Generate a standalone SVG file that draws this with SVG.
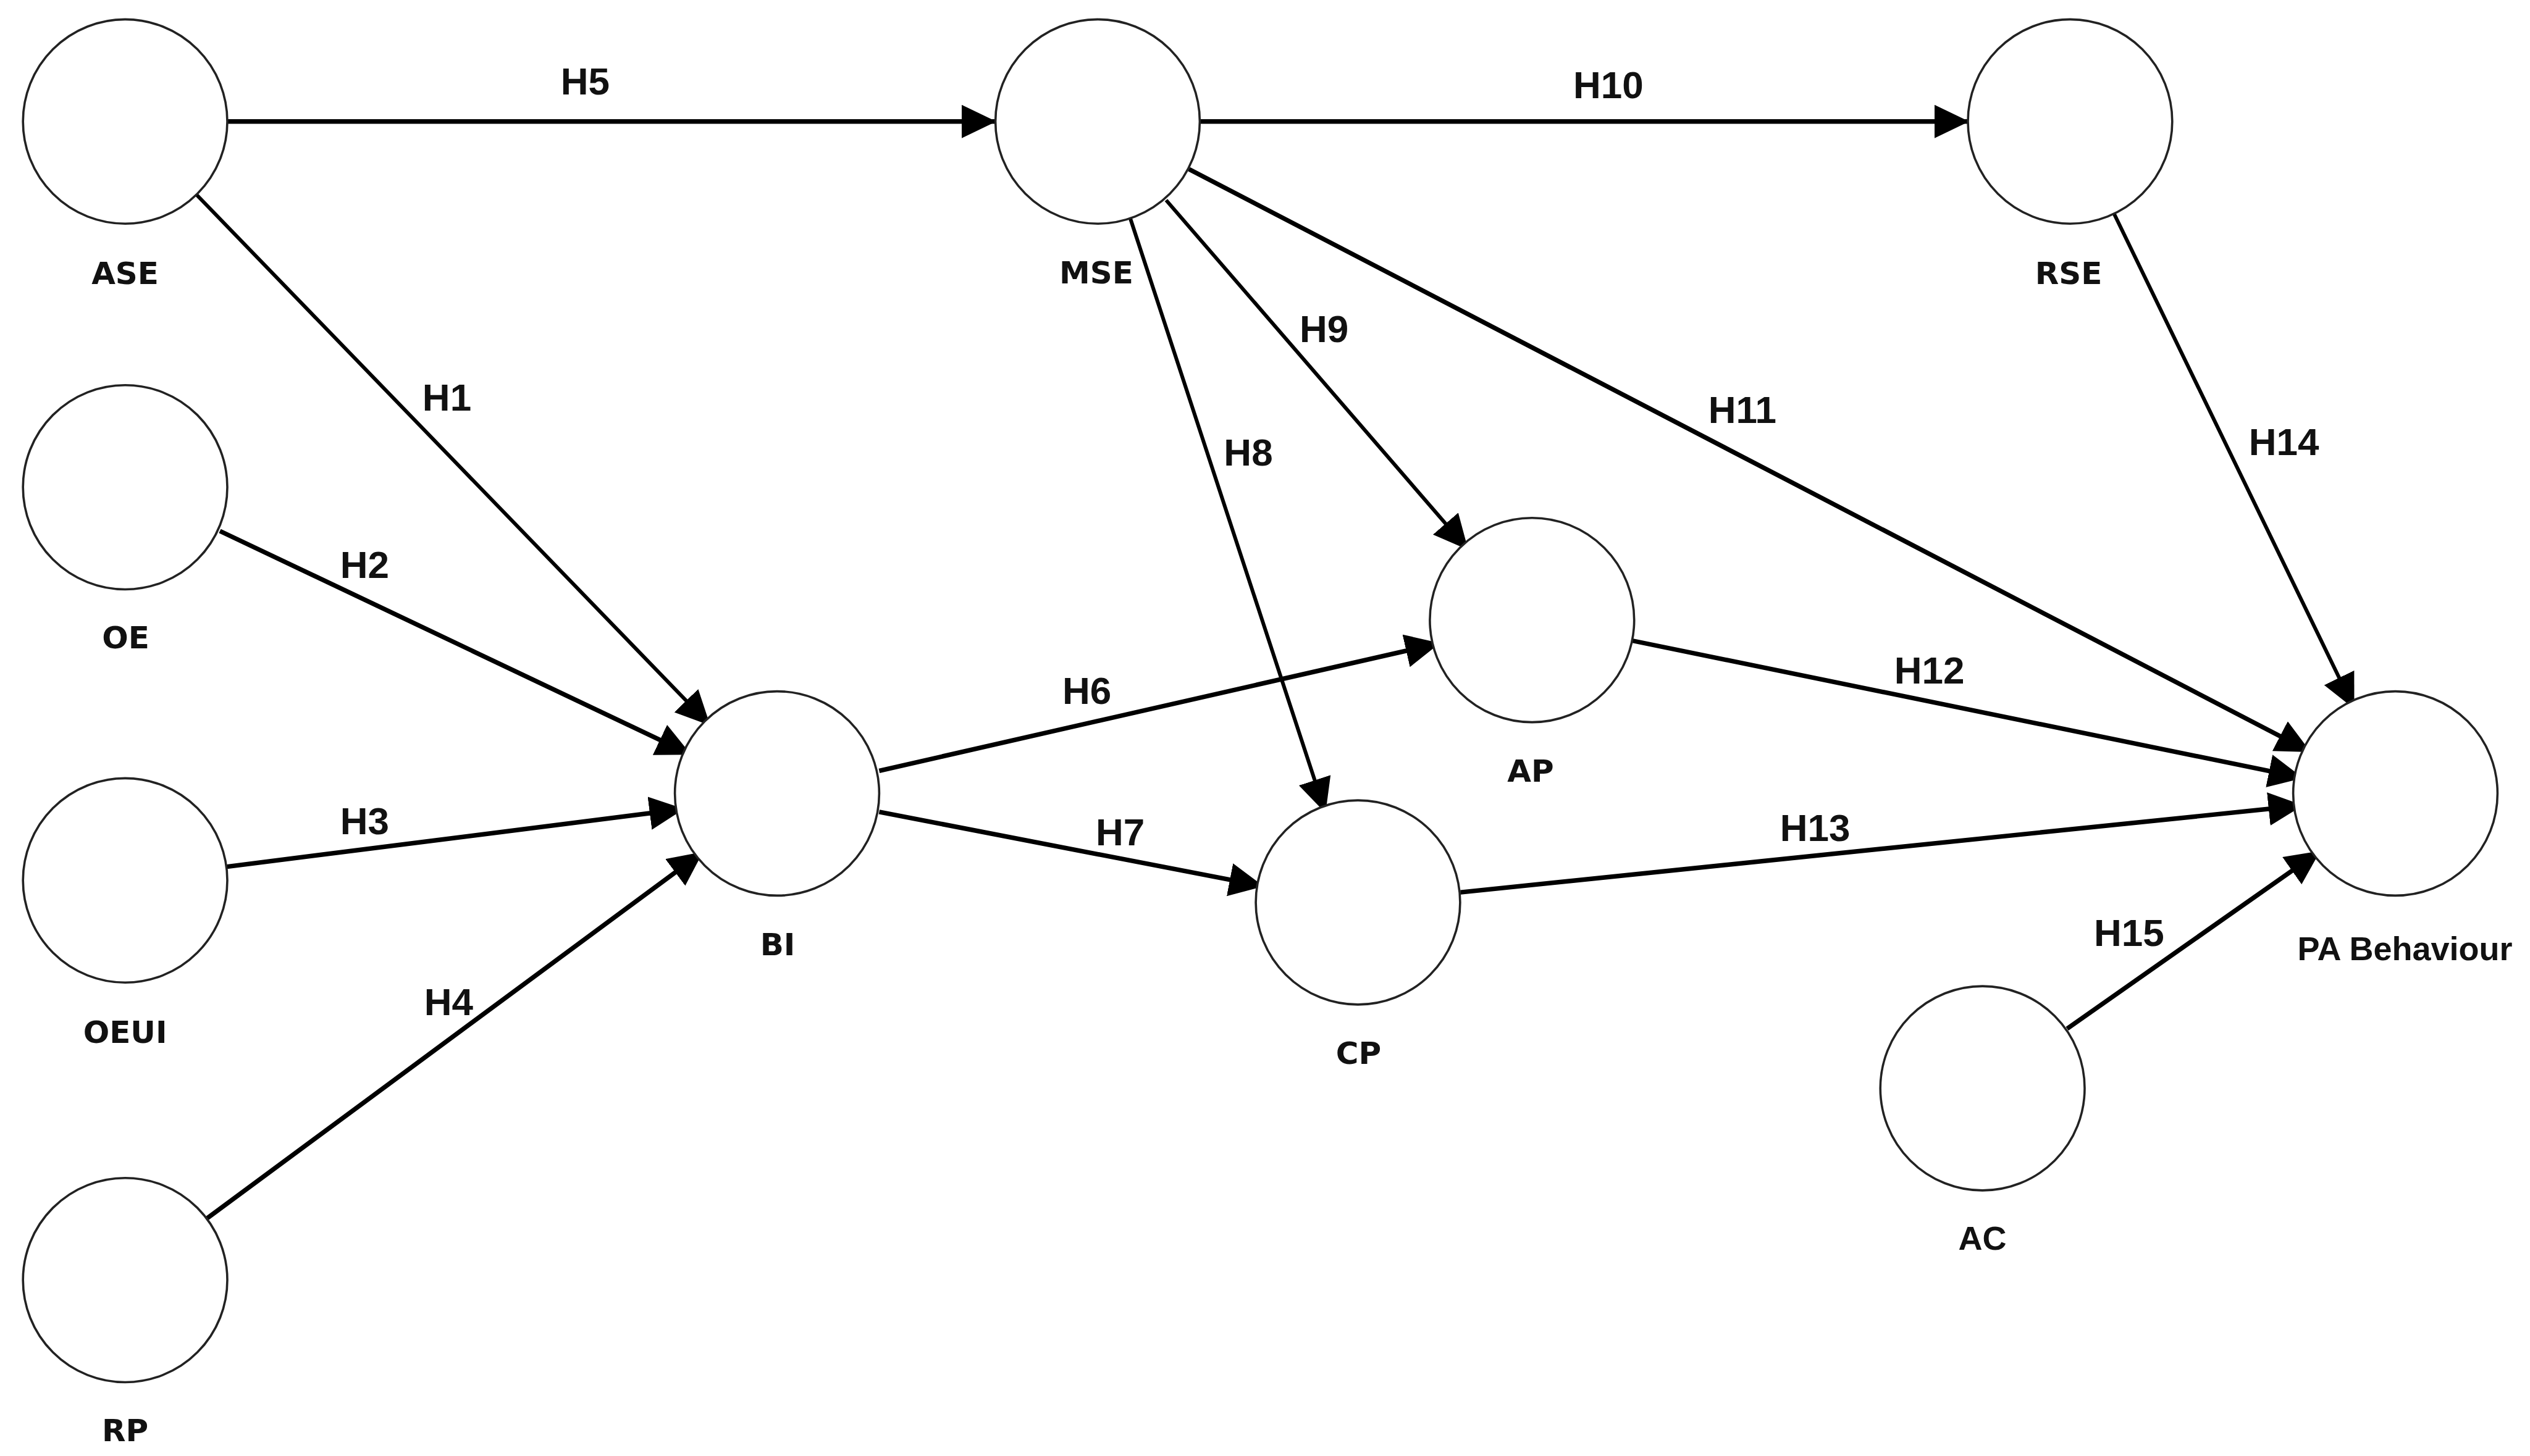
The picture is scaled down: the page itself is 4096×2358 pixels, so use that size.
<svg xmlns="http://www.w3.org/2000/svg" width="4096" height="2358" viewBox="0 0 4096 2358">
<style>
.node circle{fill:#fff;stroke:#222;stroke-width:3.6}
.nl{font-family:"DejaVu Sans",sans-serif;font-weight:bold;font-size:50px;fill:#111;text-anchor:middle}
.nl2{font-family:"Liberation Sans",Arial,sans-serif;font-weight:bold;font-size:54px;fill:#111;text-anchor:middle}
.hl{font-family:"Liberation Sans",Arial,sans-serif;font-weight:bold;font-size:62px;fill:#111;text-anchor:middle}
.c{stroke:#000;fill:none;stroke-width:7.4;marker-end:url(#ah)}
.t{stroke-width:6}
</style>
<defs>
<marker id="ah" markerUnits="userSpaceOnUse" markerWidth="60" markerHeight="60" refX="56" refY="27" orient="auto">
<path d="M0,0 L56,27 L0,54 Z" fill="#000"/>
</marker>
</defs>
<rect width="4096" height="2358" fill="#fff"/>
<g id="connectors">
<line class="c" x1="366.6" y1="196.8" x2="1613" y2="196.8"/>
<line class="c" x1="1942.9" y1="196.8" x2="3188" y2="196.8"/>
<line class="c t" x1="317.4" y1="314.5" x2="1149.9" y2="1175"/>
<line class="c" x1="356" y1="860" x2="1119" y2="1222.3"/>
<line class="c" x1="367.5" y1="1403.6" x2="1107.5" y2="1310"/>
<line class="c" x1="335.7" y1="1972.8" x2="1138.3" y2="1379.5"/>
<line class="c" x1="1423.4" y1="1248.3" x2="2331.2" y2="1041.5"/>
<line class="c" x1="1423.4" y1="1314.9" x2="2046.1" y2="1435.4"/>
<line class="c t" x1="1830" y1="354" x2="2146" y2="1316.8"/>
<line class="c t" x1="1887.9" y1="324.1" x2="2377" y2="890.4"/>
<line class="c" x1="1925" y1="274" x2="3741" y2="1218"/>
<line class="c" x1="2642.3" y1="1037.5" x2="3728.6" y2="1259.9"/>
<line class="c" x1="2364.5" y1="1445.1" x2="3728.6" y2="1304.3"/>
<line class="c t" x1="3422.7" y1="346.3" x2="3811.5" y2="1148"/>
<line class="c" x1="3346.6" y1="1666" x2="3756.5" y2="1378"/>
</g>
<g id="edge-labels">
<text class="hl" x="723.5" y="664.7">H1</text>
<text class="hl" x="590.4" y="935.8">H2</text>
<text class="hl" x="590.4" y="1350.6">H3</text>
<text class="hl" x="726.4" y="1643.9">H4</text>
<text class="hl" x="947.3" y="152.9">H5</text>
<text class="hl" x="1759.6" y="1140.3">H6</text>
<text class="hl" x="1813.6" y="1368.9">H7</text>
<text class="hl" x="2021" y="754.4">H8</text>
<text class="hl" x="2143.6" y="553.7">H9</text>
<text class="hl" x="2603.8" y="159.2">H10</text>
<text class="hl" x="2820.8" y="685.4">H11</text>
<text class="hl" x="3123.7" y="1106.5">H12</text>
<text class="hl" x="2938.5" y="1362.2">H13</text>
<text class="hl" x="3697.7" y="736.5">H14</text>
<text class="hl" x="3446.8" y="1532">H15</text>
</g>
<g id="ASE" class="node"><circle cx="202.6" cy="196.8" r="165.4"/><text class="nl" x="202.6" y="460.2">ASE</text></g>
<g id="OE" class="node"><circle cx="202.6" cy="789.1" r="165.4"/><text class="nl" x="203.5" y="1049.6">OE</text></g>
<g id="OEUI" class="node"><circle cx="202.6" cy="1425.8" r="165.4"/><text class="nl" x="202.6" y="1689.2">OEUI</text></g>
<g id="RP" class="node"><circle cx="202.6" cy="2073.1" r="165.4"/><text class="nl" x="202.6" y="2333.6">RP</text></g>
<g id="BI" class="node"><circle cx="1258" cy="1285" r="165.4"/><text class="nl" x="1259" y="1547.4">BI</text></g>
<g id="MSE" class="node"><circle cx="1777" cy="196.8" r="165.4"/><text class="nl" x="1775" y="459.2">MSE</text></g>
<g id="RSE" class="node"><circle cx="3351.4" cy="196.8" r="165.4"/><text class="nl" x="3349" y="459.7">RSE</text></g>
<g id="AP" class="node"><circle cx="2480.3" cy="1004.2" r="165.4"/><text class="nl" x="2478" y="1265.7">AP</text></g>
<g id="CP" class="node"><circle cx="2198.5" cy="1461.5" r="165.4"/><text class="nl" x="2199.5" y="1723">CP</text></g>
<g id="PA_Behaviour" class="node"><circle cx="3878" cy="1285" r="165.4"/><text class="nl2" x="3893.5" y="1555">PA Behaviour</text></g>
<g id="AC" class="node"><circle cx="3209.6" cy="1762.5" r="165.4"/><text class="nl2" x="3209.6" y="2024">AC</text></g>
</svg>
